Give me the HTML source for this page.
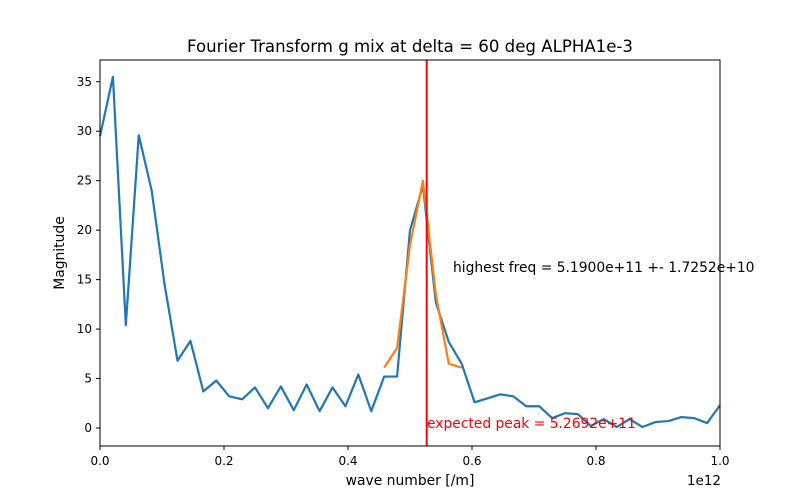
<!DOCTYPE html>
<html><head><meta charset="utf-8"><style>
body{margin:0;background:#fff;font-family:"DejaVu Sans","Liberation Sans",sans-serif;}
svg text{font-family:"DejaVu Sans","Liberation Sans",sans-serif;}
</style></head><body>
<svg id="chart" width="800" height="500" xmlns="http://www.w3.org/2000/svg"></svg>
<script>
const blueValues=[29.5,35.5,10.4,29.6,24,14.5,6.8,8.8,3.7,4.8,3.2,2.9,4.1,2.0,4.2,1.8,4.4,1.7,4.1,2.2,5.4,1.7,5.2,5.2,20,24.5,12.7,8.7,6.5,2.6,3.0,3.4,3.2,2.2,2.2,1.0,1.5,1.4,0.2,0.9,0.1,0.9,0.1,0.6,0.7,1.1,1.0,0.5,2.3];
const orangeStart=22;
const orangeValues=[6.1,8.1,18.5,25,13.5,6.5,6.1];
const xTicks=[0,0.2,0.4,0.6,0.8,1.0];
const xTickLabels=["0.0","0.2","0.4","0.6","0.8","1.0"];
const yTicks=[0,5,10,15,20,25,30,35];
const expectedPeak=0.52692;
const L=100,R=720,T=60,B=446,ymin=-1.82,ymax=37.2;
const sx=v=>L+(v-0)/(1-0)*(R-L);
const sy=v=>B-(v-ymin)/(ymax-ymin)*(B-T);
const svg=document.getElementById('chart');
const NS="http://www.w3.org/2000/svg";
function mk(tag,attrs,txt){const e=document.createElementNS(NS,tag);for(const k in attrs)e.setAttribute(k,attrs[k]);if(txt!==undefined)e.textContent=txt;svg.appendChild(e);return e;}
const n=blueValues.length;
const xOf=i=>i/(n-1);
let p=blueValues.map((v,i)=>sx(xOf(i)).toFixed(2)+","+sy(v).toFixed(2)).join(" ");
let bl=mk('polyline',{points:p,fill:'none',stroke:'#1f77b4','stroke-width':2.2,'stroke-linejoin':'round'});


let p2=orangeValues.map((v,i)=>sx(xOf(orangeStart+i)).toFixed(2)+","+sy(v).toFixed(2)).join(" ");
let ol=mk('polyline',{points:p2,fill:'none',stroke:'#ff7f0e','stroke-width':2.2,'stroke-linejoin':'round'});


let rl=mk('line',{x1:sx(expectedPeak),x2:sx(expectedPeak),y1:T,y2:B,stroke:'#ff0000','stroke-width':2});


let fr=mk('rect',{x:L,y:T,width:R-L,height:B-T,fill:'none',stroke:'#000','stroke-width':1});


xTicks.forEach((t,i)=>{
  let tl=mk('line',{x1:sx(t),x2:sx(t),y1:B,y2:B+4,stroke:'#000'});
  
  
  let tx=mk('text',{x:sx(t),y:B+19,'font-size':12,'text-anchor':'middle'},xTickLabels[i]);
  
  
});
yTicks.forEach(t=>{
  let tl=mk('line',{x1:L-4,x2:L,y1:sy(t),y2:sy(t),stroke:'#000'});
  
  
  let tx=mk('text',{x:L-8,y:sy(t)+4,'font-size':12,'text-anchor':'end'},String(t));
  
  
});
let e=mk('text',{x:721,y:485,'font-size':13.5,'text-anchor':'end'},'1e12');


let xt=mk('text',{x:410,y:485,'font-size':13.9,'text-anchor':'middle'},'wave number [/m]');


let yt=mk('text',{x:64,y:253,'font-size':13.9,'text-anchor':'middle',transform:'rotate(-90 64 253)'},'Magnitude');


let tt=mk('text',{x:410,y:52,'font-size':16.6,'text-anchor':'middle'},'Fourier Transform g mix at delta = 60 deg ALPHA1e-3');


let a1=mk('text',{x:453,y:272,'font-size':13.85},'highest freq = 5.1900e+11 +- 1.7252e+10');


let a2=mk('text',{x:427,y:428,'font-size':13.85,fill:'#ff0000'},'expected peak = 5.2692e+11');


</script>
</body></html>
